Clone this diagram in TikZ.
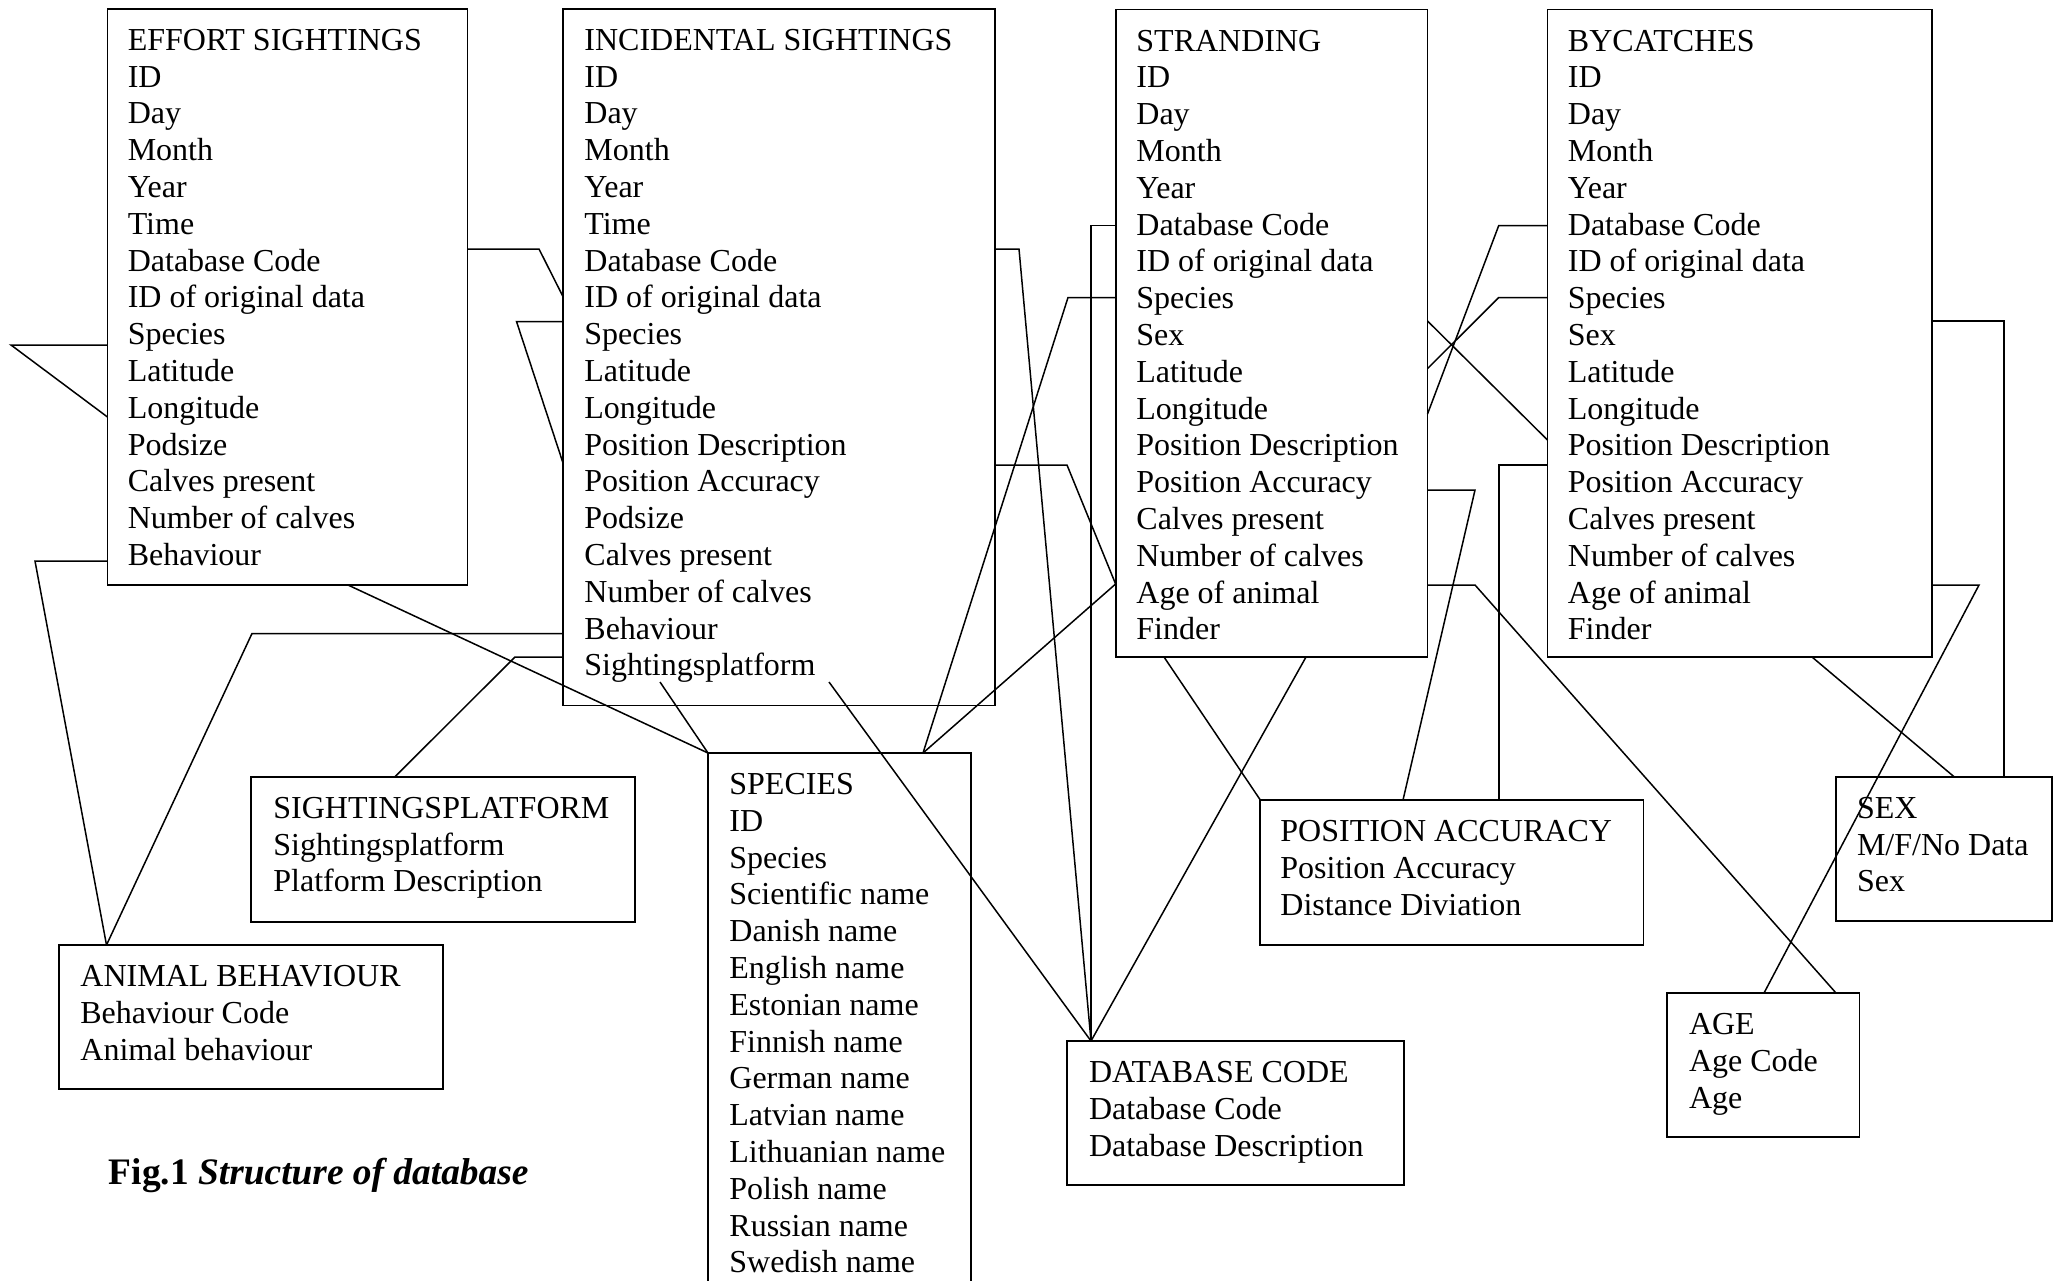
\documentclass[tikz,border=0pt]{standalone}
\usepackage{fontspec}
\setmainfont{Liberation Serif}
\usetikzlibrary{calc}
\tikzset{
 tbl/.style={draw, line width=0.9pt, anchor=north west, inner sep=0pt, outer sep=0pt},
 txt/.style={anchor=base west, inner sep=0pt, font=\fontsize{16pt}{18.4pt}\selectfont},
 conn/.style={line width=0.75pt, line join=miter},
}
\newcommand\mkrows[4]{\foreach \t [count=\i from 0] in {#4}{\node[txt] (#1-\i) at (#2,{#3+36.8*\i}) {\t};}}
\begin{document}
\begin{tikzpicture}[x=0.5pt,y=-0.5pt]
\useasboundingbox (0,0) rectangle (2060,1280);
% main tables
\node[tbl,minimum width=180pt,minimum height=288.15pt] (es) at (107.5,8.7) {};
\mkrows{es}{127.4}{50.2}{EFFORT SIGHTINGS,ID,Day,Month,Year,Time,Database Code,ID of original data,Species,Latitude,Longitude,Podsize,Calves present,Number of calves,Behaviour}
\node[tbl,minimum width=216pt,minimum height=348.4pt] (is) at (563,8.7) {};
\mkrows{is}{584}{50.2}{INCIDENTAL SIGHTINGS,ID,Day,Month,Year,Time,Database Code,ID of original data,Species,Latitude,Longitude,Position Description,Position Accuracy,Podsize,Calves present,Number of calves,Behaviour,Sightingsplatform}
\node[tbl,minimum width=155.95pt,minimum height=323.75pt] (st) at (1115.6,9.5) {};
\mkrows{st}{1136}{51}{STRANDING,ID,Day,Month,Year,Database Code,ID of original data,Species,Sex,Latitude,Longitude,Position Description,Position Accuracy,Calves present,Number of calves,Age of animal,Finder}
\node[tbl,minimum width=192.25pt,minimum height=323.75pt] (bc) at (1547.5,9.5) {};
\mkrows{bc}{1567.5}{51}{BYCATCHES,ID,Day,Month,Year,Database Code,ID of original data,Species,Sex,Latitude,Longitude,Position Description,Position Accuracy,Calves present,Number of calves,Age of animal,Finder}
\node[tbl,minimum width=131.5pt,minimum height=280pt] (sp) at (708,753) {};
\mkrows{sp}{729}{794.5}{SPECIES,ID,Species,Scientific name,Danish name,English name,Estonian name,Finnish name,German name,Latvian name,Lithuanian name,Polish name,Russian name,Swedish name}
% small tables
\node[tbl,minimum width=192pt,minimum height=72.5pt] (spf) at (251,776.7) {};
\mkrows{spf}{273}{818.2}{SIGHTINGSPLATFORM,Sightingsplatform,Platform Description}
\node[tbl,minimum width=192.15pt,minimum height=72pt] (ab) at (58.7,945) {};
\mkrows{ab}{80}{986.5}{ANIMAL BEHAVIOUR,Behaviour Code,Animal behaviour}
\node[tbl,minimum width=168.4pt,minimum height=72pt] (db) at (1067,1041) {};
\mkrows{db}{1088.6}{1082.5}{DATABASE CODE,Database Code,Database Description}
\node[tbl,minimum width=191.6pt,minimum height=72.4pt] (pa) at (1260.3,800) {};
\mkrows{pa}{1280}{841.5}{POSITION ACCURACY,Position Accuracy,Distance Diviation}
\node[tbl,minimum width=96.25pt,minimum height=72pt] (age) at (1667,993) {};
\mkrows{age}{1688.6}{1034.5}{AGE,Age Code,Age}
\node[tbl,minimum width=108pt,minimum height=72.2pt] (sex) at (1836,776.7) {};
\mkrows{sex}{1856.6}{818.2}{SEX,{M/F/No Data},Sex}
% caption
\node[anchor=base west,inner sep=0pt,font=\fontsize{18.7pt}{21pt}\selectfont] (cap) at (108.4,1184) {\textbf{Fig.1 \textit{Structure of database}}};
% named points
\coordinate (dbc) at (1091,0 |- db.north);
\coordinate (spc) at (923,0 |- sp.north);
\coordinate (isp1) at (660,682);
\coordinate (isp2) at (829,682);
% connectors
\draw[conn] (es.west |- 0,345) -- (11,345) -- (es.west |- 0,417);
\draw[conn] (es.west |- 0,561) -- (35,561) -- (106.5,0 |- ab.north);
\draw[conn] (es.east |- 0,249) -- (539,249) -- (is.west |- 0,296.6);
\draw[conn] (is.west |- 0,321.5) -- (516.5,321.5) -- (is.west |- 0,463);
\draw[conn] (348,0 |- es.south) -- (sp.north west);
\draw[conn] (is.west |- 0,633.5) -- (252,633.5) -- (106.5,0 |- ab.north);
\draw[conn] (is.west |- 0,657) -- (515,657) -- (395,0 |- spf.north);
\draw[conn] (isp1) -- (sp.north west);
\draw[conn] (isp2) -- (dbc);
\draw[conn] (is.east |- 0,249) -- (1019,249) -- (dbc);
\draw[conn] (st.west |- 0,225.5) -- (1091,225.5) -- (dbc);
\draw[conn] (st.west |- 0,297.5) -- (1068,297.5) -- (spc);
\draw[conn] (is.east |- 0,465) -- (1067,465) -- (st.west |- 0,584);
\draw[conn] (st.west |- 0,584) -- (spc);
\draw[conn] (1164,0 |- st.south) -- (pa.north west);
\draw[conn] (1306,0 |- st.south) -- (dbc);
\draw[conn] (st.east |- 0,321) -- (bc.west |- 0,440);
\draw[conn] (bc.west |- 0,225.5) -- (1498.75,225.5) -- (st.east |- 0,414);
\draw[conn] (bc.west |- 0,297.5) -- (1498.75,297.5) -- (st.east |- 0,368.6);
\draw[conn] (st.east |- 0,490) -- (1475,490) -- (1403,0 |- pa.north);
\draw[conn] (bc.west |- 0,465) -- (1499,465) -- (1499,0 |- pa.north);
\draw[conn] (st.east |- 0,585) -- (1475,585) -- (1836,0 |- age.north);
\draw[conn] (bc.east |- 0,585) -- (1979,585) -- (1764,0 |- age.north);
\draw[conn] (bc.east |- 0,321) -- (2004,321) -- (2004,0 |- sex.north);
\draw[conn] (1812,0 |- bc.south) -- (1954,0 |- sex.north);
\end{tikzpicture}
\end{document}
